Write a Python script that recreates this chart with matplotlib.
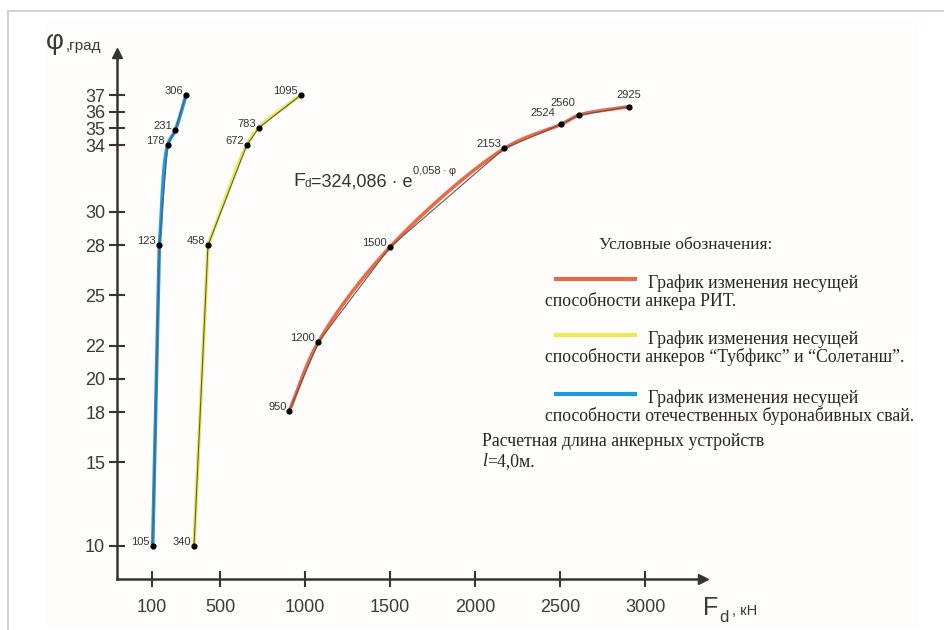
import numpy as np
import matplotlib
matplotlib.use("Agg")
import matplotlib.pyplot as plt
from matplotlib.lines import Line2D
from matplotlib.patches import Rectangle

plt.rcParams['font.family'] = ['Liberation Sans', 'DejaVu Sans']

# данные (положение точек, подписи - как на рисунке)
fd_rit = [908, 1078, 1500, 2172, 2506, 2612, 2902]
phi_rit = [18.1, 22.2, 27.9, 33.8, 35.25, 35.8, 36.3]
lbl_rit = ["950", "1200", "1500", "2153", "2524", "2560", "2925"]

fd_tub = [347, 429, 657, 729, 975]
phi_tub = [10, 28, 34, 35.05, 37]
lbl_tub = ["340", "458", "672", "783", "1095"]

fd_svai = [104, 143, 192, 237, 300]
phi_svai = [10, 28, 34, 34.9, 37]
lbl_svai = ["105", "123", "178", "231", "306"]

x_ticks = [100, 500, 1000, 1500, 2000, 2500, 3000]
y_ticks = [10, 15, 18, 20, 22, 25, 28, 30, 34, 35, 36, 37]

c_rit = "#ea6a45"
c_tub = "#eeea4e"
c_svai = "#2298e0"
c_axis = "#353535"

W, H = 945, 630


def px(x, y):
    return x / W, 1 - y / H


def smooth(ax, xs, ys, n=40, alpha=0.5):
    # сглаженная кривая через точки (центростремительный Catmull-Rom в координатах экрана)
    pts = ax.transData.transform(np.column_stack([xs, ys]))
    P = np.vstack([2 * pts[0] - pts[1], pts, 2 * pts[-1] - pts[-2]])
    out = []
    for i in range(1, len(P) - 2):
        p0, p1, p2, p3 = P[i - 1], P[i], P[i + 1], P[i + 2]
        t0 = 0.0
        t1 = t0 + np.linalg.norm(p1 - p0) ** alpha
        t2 = t1 + np.linalg.norm(p2 - p1) ** alpha
        t3 = t2 + np.linalg.norm(p3 - p2) ** alpha
        t = np.linspace(t1, t2, n)[:, None]
        a1 = (t1 - t) / (t1 - t0) * p0 + (t - t0) / (t1 - t0) * p1
        a2 = (t2 - t) / (t2 - t1) * p1 + (t - t1) / (t2 - t1) * p2
        a3 = (t3 - t) / (t3 - t2) * p2 + (t - t2) / (t3 - t2) * p3
        b1 = (t2 - t) / (t2 - t0) * a1 + (t - t0) / (t2 - t0) * a2
        b2 = (t3 - t) / (t3 - t1) * a2 + (t - t1) / (t3 - t1) * a3
        c = (t2 - t) / (t2 - t1) * b1 + (t - t1) / (t2 - t1) * b2
        out.append(c)
    out = np.vstack(out)
    return ax.transData.inverted().transform(out)


fig = plt.figure(figsize=(9.45, 6.3), dpi=100)
fig.patch.set_facecolor("white")
renderer = fig.canvas.get_renderer()


def chain(x, y, parts, color="#333333"):
    # текст из кусков разного размера (индексы), один за другим
    for s, size, dy, gap in parts:
        t = fig.text(*px(x, y + dy), s, fontsize=size, color=color, va="baseline")
        x = t.get_window_extent(renderer).x1 + gap


# рамка и фон
fig.add_artist(Rectangle(px(45, 625), 874 / W, 603 / H, color="#fefdfc", lw=0, zorder=0))
fig.add_artist(Line2D([8 / W, 1], [1 - 10.5 / H] * 2, color="#d2d2d2", lw=1.5))
fig.add_artist(Line2D([8 / W] * 2, [0, 1 - 10.5 / H], color="#d2d2d2", lw=1.5))

ax = fig.add_axes([117 / W, (H - 579.3) / H, (703 - 117) / W, (579.3 - 53.3) / H])
ax.set_facecolor("none")
ax.set_xlim(-106, 3340)
ax.set_ylim(8.0, 39.5)

for s in ["top", "right"]:
    ax.spines[s].set_visible(False)
for s in ["left", "bottom"]:
    ax.spines[s].set_color(c_axis)
    ax.spines[s].set_linewidth(1.8)
ax.plot(1, 0, ">", transform=ax.transAxes, clip_on=False, color=c_axis, ms=7)
ax.plot(0, 1, "^", transform=ax.transAxes, clip_on=False, color=c_axis, ms=7)

ax.set_xticks(x_ticks)
ax.set_yticks(y_ticks)
ax.tick_params(axis="both", direction="inout", length=11, width=1.5,
               color=c_axis, labelcolor="#3a3a3a")
ax.tick_params(axis="x", labelsize=13, pad=9)
ax.tick_params(axis="y", labelsize=13, pad=3)

# (x, y, подписи, цвет, первый участок прямой)
series = [
    (fd_svai, phi_svai, lbl_svai, c_svai, True),
    (fd_tub, phi_tub, lbl_tub, c_tub, True),
    (fd_rit, phi_rit, lbl_rit, c_rit, False),
]
special = {"2925": (0, 7), "2560": (-4, 7), "2524": (-6, 6)}

for xs, ys, lbls, col, straight in series:
    if straight:
        curve = smooth(ax, xs[1:], ys[1:])
        curve = np.vstack([[xs[0], ys[0]], curve])
    else:
        curve = smooth(ax, xs, ys)
    ax.plot(curve[:, 0], curve[:, 1], color=col, lw=2.6, zorder=2,
            solid_capstyle="round")
    ax.plot(xs, ys, color="#5a5a5a", lw=0.8, zorder=3)
    ax.scatter(xs, ys, s=12, color="black", zorder=5)
    for x, y, l in zip(xs, ys, lbls):
        if l in special:
            dx, dy = special[l]
            ha = "center" if dx == 0 else "right"
            ax.annotate(l, (x, y), xytext=(dx, dy), textcoords="offset pixels",
                        ha=ha, va="bottom", fontsize=8, color="#333333")
        else:
            ax.annotate(l, (x, y), xytext=(-3, 4), textcoords="offset pixels",
                        ha="right", va="center", fontsize=8, color="#333333")

# формула
chain(293, 186, [("F", 14, 0, 0), ("d", 8.5, 1, 0),
                 ("=324,086 · e", 13, 0, 0), ("0,058\u2009·\u2009φ", 8, -12, 0)])

# подписи осей
fig.text(*px(46, 49), "φ", fontsize=20, color="#3a3a3a", va="baseline")
fig.text(*px(66, 50), ",град", fontsize=11, color="#3a3a3a", va="baseline")
chain(703, 615, [("F", 18, 0, 1), ("d", 12, 7, 3), (", кН", 10.5, 0, 0)], color="#3a3a3a")

# условные обозначения
serif = ["Liberation Serif", "DejaVu Serif"]
tc = "#262626"
fs = 12.8
fig.text(*px(599, 249), "Условные обозначения:", family=serif, fontsize=12.5, color=tc, va="baseline")
legend_rows = [
    (279, c_rit, "способности анкера РИТ."),
    (335, c_tub, "способности анкеров “Тубфикс” и “Солетанш”."),
    (394, c_svai, "способности отечественных буронабивных свай."),
]
for y, col, line2 in legend_rows:
    fig.add_artist(Line2D([556 / W, 635 / W], [1 - y / H] * 2, color=col, lw=3))
    fig.text(*px(648, y + 9), "График изменения несущей", family=serif,
             fontsize=fs, color=tc, va="baseline")
    fig.text(*px(545, y + 27), line2, family=serif, fontsize=fs, color=tc, va="baseline")

fig.text(*px(482, 446), "Расчетная длина анкерных устройств", family=serif,
         fontsize=fs, color=tc, va="baseline")
fig.text(*px(482, 466), "l", family=serif, style="italic", fontsize=fs, color=tc, va="baseline")
fig.text(*px(487, 466), "=4,0м.", family=serif, fontsize=fs, color=tc, va="baseline")

fig.savefig("out.png", dpi=100)
